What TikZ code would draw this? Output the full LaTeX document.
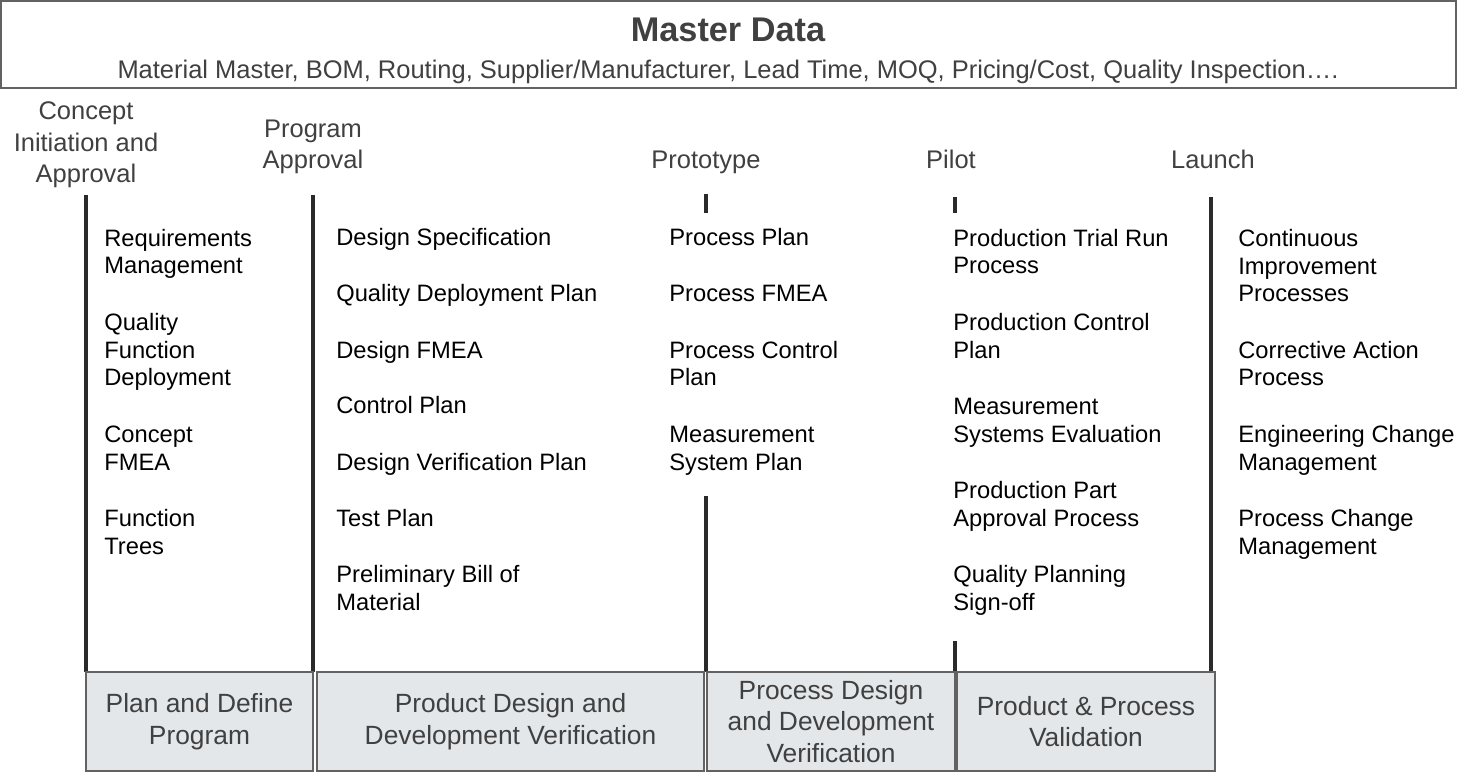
\documentclass[tikz,border=0pt]{standalone}
\usepackage{fontspec}
\setmainfont{Liberation Sans}

\definecolor{textgray}{HTML}{404040}
\definecolor{framegray}{HTML}{626262}
\definecolor{gatecolor}{HTML}{2A2A2A}
\definecolor{stagefill}{HTML}{E3E7EA}

\tikzset{
  phase/.style={font=\fontsize{14.5}{18}\selectfont, text=textgray, align=center, anchor=base, inner sep=0pt},
  item/.style={font=\fontsize{13.5}{15.9}\selectfont, align=left, anchor=base west, inner sep=0pt},
  gate/.style={line width=0.09cm, gatecolor},
  stagebox/.style={draw=framegray, fill=stagefill, line width=0.05cm, minimum height=1.98cm,
    font=\fontsize{15}{18}\selectfont, text=textgray, align=center, inner sep=0pt},
}

\begin{document}
\begin{tikzpicture}[x=0.02cm, y=-0.02cm]
      \useasboundingbox (0,0) rectangle (1457,773);
      % master data banner
      \draw[framegray, line width=0.05cm] (1,1) rectangle (1456,88);
      \node[font=\bfseries\fontsize{19.5}{23}\selectfont, text=textgray, anchor=base] (master) at (728,42) {Master Data};
      \node[font=\fontsize{14.5}{17}\selectfont, text=textgray, anchor=base] (masterlist) at (728,78.5)
        {Material Master, BOM, Routing, Supplier/Manufacturer, Lead Time, MOQ, Pricing/Cost, Quality Inspection….};
      % gates (base = last line)
      \node[phase] (concept) at (86,183) {Concept\\Initiation and\\Approval};
      \node[phase] (program) at (313,169) {Program\\Approval};
      \node[phase] (prototype) at (706,169) {Prototype};
      \node[phase] (pilot) at (951,169) {Pilot};
      \node[phase] (launch) at (1213,169) {Launch};
      \draw[gate] (86,195) -- (86,672);
      \draw[gate] (313,195) -- (313,672);
      \draw[gate] (706,194) -- (706,213);
      \draw[gate] (706,496) -- (706,672);
      \draw[gate] (955,197) -- (955,213);
      \draw[gate] (955,641) -- (955,672);
      \draw[gate] (1211,197) -- (1211,672);
      % plan and define
      \node[item] (req) at (104,274) {Requirements\\Management};
      \node[item] (qfd) at (104,386) {Quality\\Function\\Deployment};
      \node[item] (cfmea) at (104,470) {Concept\\FMEA};
      \node[item] (ftree) at (104,554) {Function\\Trees};
      % product design
      \node[item] (dspec) at (336,246) {Design Specification};
      \node[item] (qdp) at (336,302) {Quality Deployment Plan};
      \node[item] (dfmea) at (336,358) {Design FMEA};
      \node[item] (cplan) at (336,414) {Control Plan};
      \node[item] (dvp) at (336,470) {Design Verification Plan};
      \node[item] (tplan) at (336,526) {Test Plan};
      \node[item] (pbom) at (336,610) {Preliminary Bill of\\Material};
      % process design
      \node[item] (pplan) at (669,246) {Process Plan};
      \node[item] (pfmea) at (669,302) {Process FMEA};
      \node[item] (pcp) at (669,386) {Process Control\\Plan};
      \node[item] (msp) at (669,470) {Measurement\\System Plan};
      % validation
      \node[item] (trial) at (953,274) {Production Trial Run\\Process};
      \node[item] (prodcp) at (953,358) {Production Control\\Plan};
      \node[item] (mse) at (953,442) {Measurement\\Systems Evaluation};
      \node[item] (ppap) at (953,526) {Production Part\\Approval Process};
      \node[item] (signoff) at (953,610) {Quality Planning\\Sign-off};
      % launch
      \node[item] (cip) at (1238,302) {Continuous\\Improvement\\Processes};
      \node[item] (cap) at (1238,386) {Corrective Action\\Process};
      \node[item] (ecm) at (1238,470) {Engineering Change\\Management};
      \node[item] (pcm) at (1238,554) {Process Change\\Management};
      % stages
      \node[stagebox, minimum width=4.54cm] (plan) at (199.5,721.5) {Plan and Define\\Program};
      \node[stagebox, minimum width=7.74cm] (product) at (510.5,721.5) {Product Design and\\Development Verification};
      \node[stagebox, minimum width=4.96cm] (process) at (831,721.5) {Process Design\\and Development\\Verification};
      \node[stagebox, minimum width=5.16cm] (valid) at (1086,721.5) {Product \& Process\\Validation};
\end{tikzpicture}
\end{document}
